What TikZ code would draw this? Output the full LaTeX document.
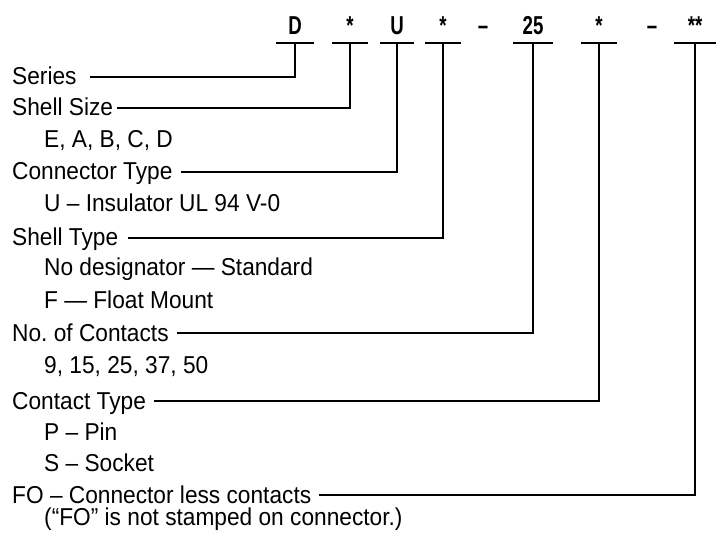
\documentclass[tikz,border=0pt]{standalone}
\usepackage{fontspec}
\setmainfont{Liberation Sans}[FakeStretch=0.93]
\newfontfamily\codefont{Liberation Sans}[FakeStretch=0.72]
\usepackage{tikz}

\begin{document}
\frenchspacing
\begin{tikzpicture}[
    x=1bp, y=-1bp,
    lbl/.style={anchor=base west, inner sep=0pt, text height=16bp, text depth=0pt, font=\fontsize{24.5}{28}\selectfont},
    code/.style={anchor=base, inner xsep=0pt, inner ysep=8bp, text height=16bp, text depth=0pt, font=\codefont\bfseries\fontsize{26}{28}\selectfont},
    bar/.style={line width=2.2bp},
    link/.style={line width=1.1bp}
  ]
    \useasboundingbox (0,0) rectangle (720,540);

    \node[code, minimum width=38bp] (cD) at (295,35) {D};
    \node[code, minimum width=35bp] (cS) at (350,35) {*};
    \node[code, minimum width=33bp] (cU) at (397,35) {U};
    \node[code, minimum width=35bp] (cT) at (443,35) {*};
    \node[code] (dashA) at (483,35) {–};
    \node[code, minimum width=40bp] (cN) at (533,35) {25};
    \node[code, minimum width=35bp] (cC) at (599,35) {*};
    \node[code] (dashB) at (652,35) {–};
    \node[code, minimum width=42bp] (cF) at (695,35) {**};

    \foreach \c in {cD,cS,cU,cT,cN,cC,cF}
      \draw[bar] (\c.south west) -- (\c.south east);

    \node[lbl] (series) at (12,85) {Series};
    \node[lbl] (size) at (12,116) {Shell Size};
    \node[lbl] (sizes) at (44,148) {E, A, B, C, D};
    \node[lbl] (conn) at (12,180) {Connector Type};
    \node[lbl] (insul) at (44,212) {U – Insulator UL 94 V-0};
    \node[lbl] (shell) at (12,246) {Shell Type};
    \node[lbl] (std) at (44,276) {No designator — Standard};
    \node[lbl] (float) at (44,308) {F — Float Mount};
    \node[lbl] (count) at (12,341) {No. of Contacts};
    \node[lbl] (counts) at (44,373) {9, 15, 25, 37, 50};
    \node[lbl] (ctype) at (12,409) {Contact Type};
    \node[lbl] (pin) at (44,440) {P – Pin};
    \node[lbl] (socket) at (44,471) {S – Socket};
    \node[lbl] (fo) at (12,503) {FO – Connector less contacts};
    \node[lbl] (fonote) at (44,525) {(“FO” is not stamped on connector.)};

    \draw[link] ([xshift=13bp]series.east) -| (cD.south);
    \draw[link] ([xshift=4bp]size.east) -| (cS.south);
    \draw[link] ([xshift=8bp]conn.east) -| (cU.south);
    \draw[link] ([xshift=10bp]shell.east) -| (cT.south);
    \draw[link] ([xshift=8bp]count.east) -| (cN.south);
    \draw[link] ([xshift=8bp]ctype.east) -| (cC.south);
    \draw[link] ([xshift=8bp]fo.east) -| (cF.south);
  \end{tikzpicture}
\end{document}
